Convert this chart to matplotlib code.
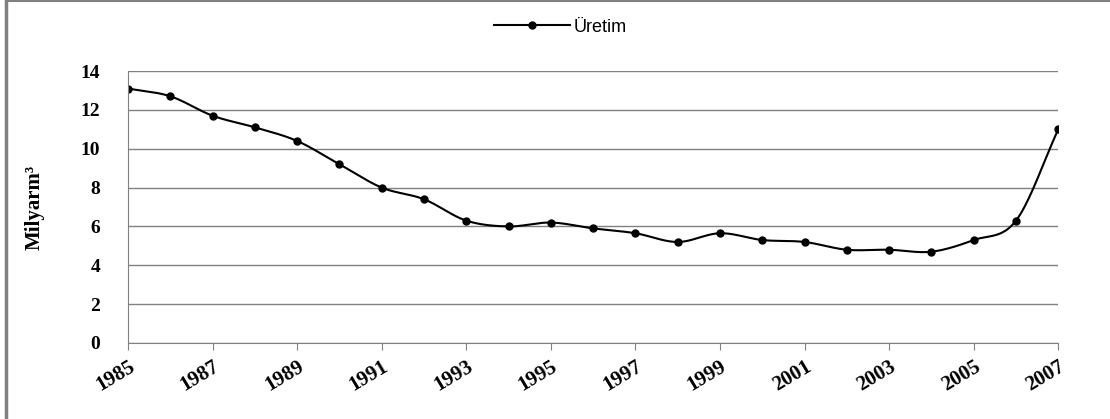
import matplotlib
matplotlib.use('Agg')
import matplotlib.pyplot as plt
from matplotlib.lines import Line2D
import numpy as np

years = list(range(1985, 2008))
uretim = [13.1, 12.7, 11.7, 11.1, 10.4, 9.2, 8.0, 7.4, 6.3, 6.0, 6.2, 5.9,
          5.65, 5.2, 5.65, 5.3, 5.2, 4.8, 4.8, 4.7, 5.3, 6.3, 11.0]
tick_years = list(range(1985, 2008, 2))
y_ticks = [0, 2, 4, 6, 8, 10, 12, 14]


def smooth(x, y, n=20):
    # catmull-rom style curve like excel's smoothed line
    x = np.asarray(x, float)
    y = np.asarray(y, float)
    px = np.concatenate([[2 * x[0] - x[1]], x, [2 * x[-1] - x[-2]]])
    py = np.concatenate([[2 * y[0] - y[1]], y, [2 * y[-1] - y[-2]]])
    xs, ys = [], []
    t = np.linspace(0, 1, n, endpoint=False)
    for i in range(1, len(px) - 2):
        for p, out in ((px, xs), (py, ys)):
            p0, p1, p2, p3 = p[i - 1], p[i], p[i + 1], p[i + 2]
            out.extend(0.5 * (2 * p1 + (-p0 + p2) * t
                              + (2 * p0 - 5 * p1 + 4 * p2 - p3) * t ** 2
                              + (-p0 + 3 * p1 - 3 * p2 + p3) * t ** 3))
    xs.append(x[-1])
    ys.append(y[-1])
    return xs, ys


fig = plt.figure(figsize=(11.1, 4.19), dpi=100)
ax = fig.add_axes([0.1153, 0.1814, 0.8381, 0.6491])

sx, sy = smooth(years, uretim)
ax.plot(sx, sy, color='black', lw=1.5)
ax.plot(years, uretim, 'o', color='black', ms=5)

ax.set_xlim(1985, 2007)
ax.set_ylim(0, 14)
ax.set_xticks(tick_years)
ax.set_xticklabels([str(y) for y in tick_years], rotation=31, ha='right',
                   rotation_mode='anchor', family='Liberation Serif',
                   fontweight='bold', fontsize=15)
ax.set_yticks(y_ticks)
ax.set_yticklabels([str(v) for v in y_ticks], family='Liberation Serif',
                   fontweight='bold', fontsize=14)
ax.tick_params(axis='y', length=0, pad=20)
ax.tick_params(axis='x', length=5, color='#808080', direction='out', pad=5)
ax.grid(axis='y', color='#808080', lw=1)
ax.set_axisbelow(True)
for s in ['top', 'right']:
    ax.spines[s].set_visible(False)
for s in ['left', 'bottom']:
    ax.spines[s].set_color('#808080')

ax.set_ylabel('Milyarm³', family='Liberation Serif', fontweight='bold',
              fontsize=15, labelpad=26)

handle = Line2D([], [], color='black', lw=1.5, marker='o', ms=5)
fig.legend([handle], ['Üretim'], loc='center', bbox_to_anchor=(0.505, 0.935),
           frameon=False, prop={'family': 'Liberation Sans', 'size': 13},
           handlelength=4.2, handletextpad=0.2)

# figure border (left and top only)
fig.add_artist(Line2D([0.0054, 0.0054], [0, 0.997], transform=fig.transFigure,
                      color='#808080', lw=2.5))
fig.add_artist(Line2D([0.0054, 1], [0.997, 0.997], transform=fig.transFigure,
                      color='#808080', lw=1.5))

fig.savefig('out.png', dpi=100)
